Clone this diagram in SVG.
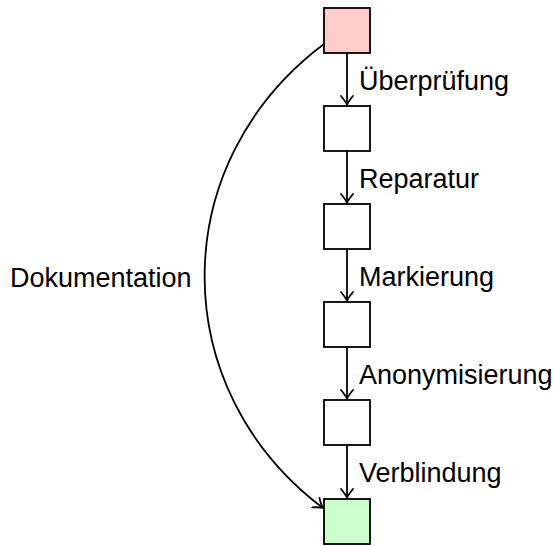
<svg xmlns="http://www.w3.org/2000/svg" width="554" height="546" viewBox="0 0 554 546">
<defs>
<style>
.box{stroke:#000;stroke-width:1.8;fill:#fff}
.edge{stroke:#000;stroke-width:1.8;fill:none}
.lbl{font-family:"Liberation Sans",Arial,sans-serif;font-size:27px;fill:#000}
</style>
<marker id="arr" viewBox="-10 -7 12 14" refX="0" refY="0" markerWidth="12" markerHeight="14" markerUnits="userSpaceOnUse" orient="auto">
<path d="M-9,-6 Q-3,-1 0,0 Q-3,1 -9,6" fill="none" stroke="#000" stroke-width="1.8" stroke-linecap="round"/>
</marker>
</defs>
<rect width="554" height="546" fill="#fff"/>
<g id="connectors">
<path class="edge" d="M347,53 V105" marker-end="url(#arr)"/>
<path class="edge" d="M347,151 V203" marker-end="url(#arr)"/>
<path class="edge" d="M347,249 V301" marker-end="url(#arr)"/>
<path class="edge" d="M347,347 V399" marker-end="url(#arr)"/>
<path class="edge" d="M347,445 V498" marker-end="url(#arr)"/>
<path class="edge" d="M324,44 C165,163 165,389 323,508" marker-end="url(#arr)"/>
<text class="lbl" x="359" y="90">Überprüfung</text>
<text class="lbl" x="359" y="188">Reparatur</text>
<text class="lbl" x="359" y="286">Markierung</text>
<text class="lbl" x="359" y="384">Anonymisierung</text>
<text class="lbl" x="359" y="482">Verblindung</text>
<text class="lbl" x="10" y="287">Dokumentation</text>
</g>
<g id="n0"><rect class="box" x="324" y="8" width="46" height="45" style="fill:#ffcccc"/></g>
<g id="n1"><rect class="box" x="324" y="106" width="46" height="45"/></g>
<g id="n2"><rect class="box" x="324" y="204" width="46" height="45"/></g>
<g id="n3"><rect class="box" x="324" y="302" width="46" height="45"/></g>
<g id="n4"><rect class="box" x="324" y="400" width="46" height="45"/></g>
<g id="n5"><rect class="box" x="324" y="499" width="46" height="45" style="fill:#ccffcc"/></g>
</svg>
